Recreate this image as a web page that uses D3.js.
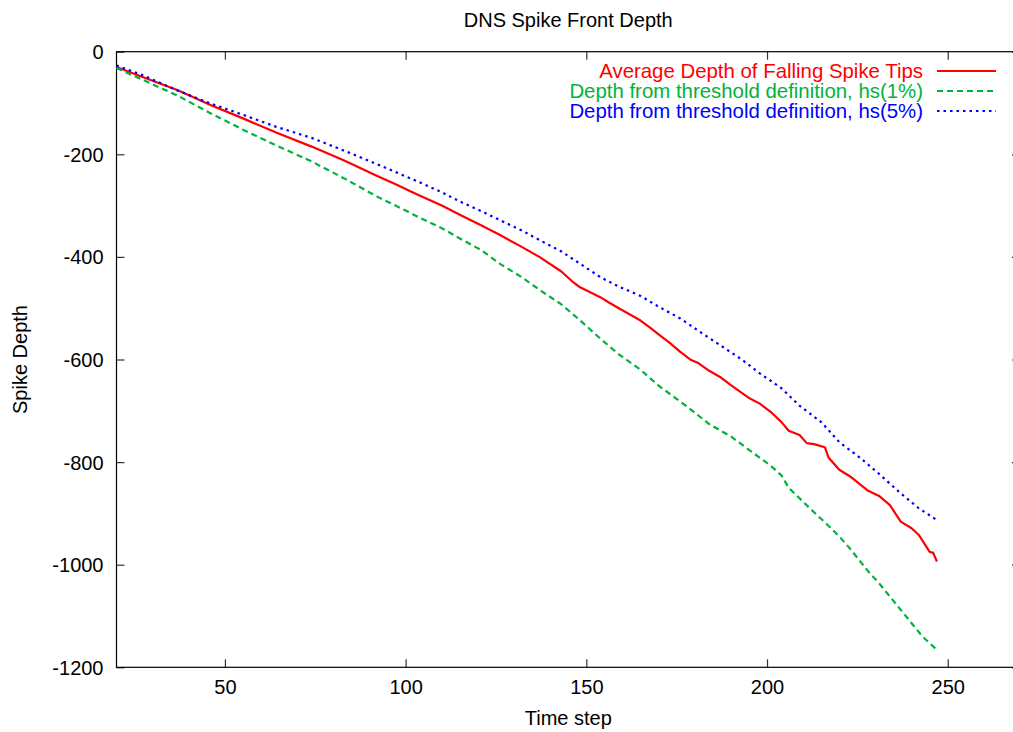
<!DOCTYPE html>
<html>
<head>
<meta charset="utf-8">
<script src="https://cdn.jsdelivr.net/npm/d3@7"></script>
<style>
  body { margin: 0; background: #fff; }
  text { font-family: "Liberation Sans", Arial, sans-serif; }
</style>
</head>
<body>
<svg class="svg" width="1013" height="732"></svg>
<script>
// average depth of falling spike tips
const redSteps = [20, 27, 37, 46, 55, 64, 74, 83, 92, 98, 101, 104, 110, 115, 121, 126, 132, 137, 143, 146, 148, 154, 156, 159, 165, 168, 170, 173, 176, 179, 181, 184, 187, 190, 193, 195, 198, 201, 204, 206, 209, 211, 213, 216, 217, 220, 223, 226, 228, 231, 234, 237, 240, 242, 245, 246, 247]
const redDepth = [-30, -49, -75, -104, -130, -157, -185, -212, -242, -261, -271, -281, -300, -318, -339, -357, -380, -400, -428, -447, -458, -479, -488, -500, -524, -540, -551, -567, -585, -601, -607, -622, -634, -650, -665, -675, -686, -702, -722, -739, -747, -763, -765, -771, -791, -815, -828, -845, -856, -866, -884, -916, -929, -942, -975, -977, -994]

// threshold definition hs(1%)
const greenSteps = [20, 27, 37, 46, 55, 64, 74, 83, 92, 101, 104, 110, 115, 121, 126, 132, 137, 143, 148, 154, 159, 165, 170, 176, 179, 184, 190, 195, 201, 204, 206, 212, 217, 220, 223, 228, 231, 234, 237, 240, 243, 247]
const greenDepth = [-32, -54, -86, -120, -152, -182, -214, -247, -282, -313, -324, -344, -364, -387, -413, -439, -464, -492, -522, -560, -590, -620, -651, -682, -698, -726, -750, -776, -807, -826, -850, -891, -924, -945, -969, -1013, -1036, -1062, -1088, -1114, -1140, -1166]

// threshold definition hs(5%)
const blueSteps = [20, 27, 37, 46, 55, 64, 74, 83, 92, 98, 104, 110, 115, 121, 126, 132, 137, 143, 148, 154, 159, 165, 170, 176, 181, 187, 193, 198, 204, 209, 215, 220, 226, 231, 237, 242, 247]
const blueDepth = [-27, -45, -76, -101, -123, -146, -168, -193, -219, -237, -255, -274, -292, -311, -328, -348, -367, -389, -412, -440, -458, -476, -497, -520, -544, -572, -600, -627, -656, -690, -722, -761, -793, -823, -861, -890, -913]

const xTicks = [50, 100, 150, 200, 250]
const yTicks = [0, -200, -400, -600, -800, -1000, -1200]

const series = [
    { name: 'Average Depth of Falling Spike Tips', steps: redSteps, depth: redDepth, color: '#ff0000', dash: null },
    { name: 'Depth from threshold definition, hs(1%)', steps: greenSteps, depth: greenDepth, color: '#00b33c', dash: '6,4' },
    { name: 'Depth from threshold definition, hs(5%)', steps: blueSteps, depth: blueDepth, color: '#0000ff', dash: '2.5,4' }
]

const plot = { left: 116.5, right: 1020, top: 51.7, bottom: 667.3 }

const svg = d3.select('.svg')
const x = d3.scaleLinear().domain([20, 270]).range([plot.left, plot.right])
const y = d3.scaleLinear().domain([-1200, 0]).range([plot.bottom, plot.top])

// axes with inward ticks
const tickLen = 8
const plain = d => String(d)
const bottomAxis = svg.append('g')
    .attr('transform', `translate(0,${plot.bottom})`)
    .call(d3.axisBottom(x).tickValues(xTicks).tickFormat(plain).tickSizeInner(-tickLen).tickSizeOuter(0).tickPadding(13))
svg.append('g')
    .attr('transform', `translate(0,${plot.top})`)
    .call(d3.axisTop(x).tickValues(xTicks).tickSizeInner(-tickLen).tickSizeOuter(0).tickFormat(''))
const leftAxis = svg.append('g')
    .attr('transform', `translate(${plot.left},0)`)
    .call(d3.axisLeft(y).tickValues(yTicks).tickFormat(plain).tickSizeInner(-tickLen).tickSizeOuter(0).tickPadding(13))
svg.append('g')
    .attr('transform', `translate(${plot.right},0)`)
    .call(d3.axisRight(y).tickValues(yTicks).tickSizeInner(-tickLen).tickSizeOuter(0).tickFormat(''))

svg.selectAll('.domain').remove()
svg.selectAll('.tick line').attr('stroke', '#333').attr('stroke-width', 1.2)
svg.selectAll('.tick text')
    .attr('font-size', 20)
    .attr('font-family', '"Liberation Sans", Arial, sans-serif')
    .attr('fill', '#000')
bottomAxis.selectAll('.tick text').attr('dy', '0.71em')
leftAxis.selectAll('.tick text').attr('dy', '0.35em')

// border
svg.append('rect')
    .attr('x', plot.left)
    .attr('y', plot.top)
    .attr('width', plot.right - plot.left)
    .attr('height', plot.bottom - plot.top)
    .attr('fill', 'none')
    .attr('stroke', '#000')
    .attr('stroke-width', 1.2)

// lines
const line = d3.line().x(d => x(d[0])).y(d => y(d[1]))
svg.selectAll('.series').data(series).join('path')
    .classed('series', true)
    .attr('d', s => line(d3.zip(s.steps, s.depth)))
    .attr('fill', 'none')
    .attr('stroke', s => s.color)
    .attr('stroke-width', 2.2)
    .attr('stroke-dasharray', s => s.dash)
    .attr('stroke-linejoin', 'round')

// legend
const legend = svg.append('g')
legend.selectAll('text').data(series).join('text')
    .attr('x', 923)
    .attr('y', (d, i) => 71 + i * 20 + 7)
    .attr('text-anchor', 'end')
    .attr('font-size', 20.4)
    .attr('fill', d => d.color)
    .text(d => d.name)
legend.selectAll('line').data(series).join('line')
    .attr('x1', 937)
    .attr('x2', 996)
    .attr('y1', (d, i) => 71 + i * 20)
    .attr('y2', (d, i) => 71 + i * 20)
    .attr('stroke', d => d.color)
    .attr('stroke-width', 2.2)
    .attr('stroke-dasharray', d => d.dash)

// titles
svg.append('text')
    .attr('x', (plot.left + plot.right) / 2)
    .attr('y', 27)
    .attr('text-anchor', 'middle')
    .attr('font-size', 20)
    .text('DNS Spike Front Depth')
svg.append('text')
    .attr('x', (plot.left + plot.right) / 2)
    .attr('y', 725)
    .attr('text-anchor', 'middle')
    .attr('font-size', 20)
    .text('Time step')
svg.append('text')
    .attr('transform', `translate(27,${(plot.top + plot.bottom) / 2}) rotate(-90)`)
    .attr('text-anchor', 'middle')
    .attr('font-size', 20)
    .text('Spike Depth')
</script>
</body>
</html>
